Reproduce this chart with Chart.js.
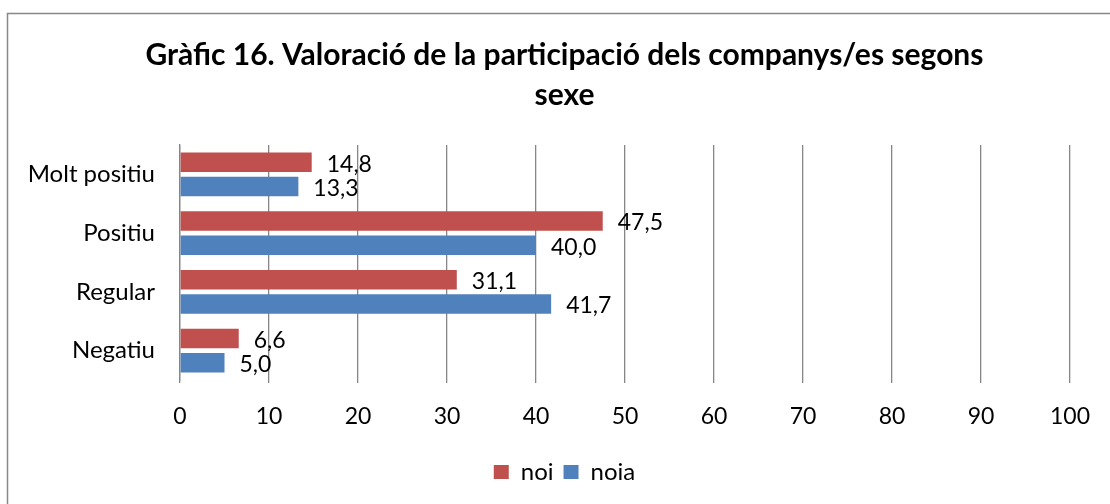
<!DOCTYPE html>
<html>
<head>
<meta charset="utf-8">
<script src="https://cdn.jsdelivr.net/npm/chart.js@4.4.0/dist/chart.umd.min.js"></script>
<style>
  html, body { margin: 0; padding: 0; background: #fff; }
  #wrap { position: relative; width: 1110px; height: 504px; }
</style>
</head>
<body>
<div id="wrap"><canvas id="chart" width="1110" height="504"></canvas></div>
<script>
const categories = ['Molt positiu', 'Positiu', 'Regular', 'Negatiu'];
const noiValues = [14.8, 47.5, 31.1, 6.6];
const noiaValues = [13.3, 40.0, 41.7, 5.0];
const seriesNames = ['noi', 'noia'];
const titleLines = ['Gràfic 16. Valoració de la participació dels companys/es segons', 'sexe'];
const xMin = 0, xMax = 100, xStep = 10;

const FONT = 'Lato, "Open Sans", sans-serif';
Chart.defaults.font.family = FONT;
Chart.defaults.color = '#000';

// frame round the chart (only left and top edges are inside the picture)
const framePlugin = {
    id: 'frame',
    beforeDraw(chart) {
        const ctx = chart.ctx;
        ctx.save();
        ctx.strokeStyle = '#888';
        ctx.lineWidth = 1.5;
        ctx.strokeRect(7.5, 13.5, 1200, 600);
        ctx.restore();
    }
};

// value labels to the right of each bar, with a decimal comma
const valueLabels = {
    id: 'valueLabels',
    afterDatasetsDraw(chart) {
        const ctx = chart.ctx;
        ctx.save();
        ctx.font = '23px ' + FONT;
        ctx.fillStyle = '#000';
        ctx.textAlign = 'left';
        ctx.textBaseline = 'middle';
        chart.data.datasets.forEach((ds, i) => {
            chart.getDatasetMeta(i).data.forEach((bar, j) => {
                ctx.fillText(ds.data[j].toFixed(1).replace('.', ','), bar.x + 15, bar.y + 2);
            });
        });
        ctx.restore();
    }
};

// title and legend sit a bit right of the plot centre in the original
const shiftBlocks = {
    id: 'shiftBlocks',
    afterLayout(chart) {
        chart.titleBlock.left += 29;
        chart.titleBlock.right += 29;
        chart.legend.left += 29;
        chart.legend.right += 29;
    }
};

new Chart(document.getElementById('chart'), {
    type: 'bar',
    data: {
        labels: categories,
        datasets: [
            { label: seriesNames[0], data: noiValues, backgroundColor: '#C0504D' },
            { label: seriesNames[1], data: noiaValues, backgroundColor: '#4F81BD' }
        ]
    },
    options: {
        indexAxis: 'y',
        responsive: false,
        animation: false,
        categoryPercentage: 0.83,
        barPercentage: 0.8,
        layout: { padding: { left: 0, right: 39, top: 0, bottom: 10 } },
        scales: {
            x: {
                min: xMin,
                max: xMax,
                ticks: { stepSize: xStep, padding: 20, font: { size: 23 } },
                grid: { color: '#868686', lineWidth: 1.3, tickLength: 3 },
                border: { display: false },
                afterFit(scale) { scale.height = 70; }
            },
            y: {
                ticks: { padding: 25, font: { size: 24 } },
                grid: { display: false, drawTicks: false },
                border: { display: true, color: '#868686', width: 1.3 },
                afterFit(scale) { scale.width = 180; }
            }
        },
        plugins: {
            title: {
                display: true,
                text: titleLines,
                font: { size: 30, weight: 'bold', lineHeight: 40 / 30 },
                padding: { top: 35, bottom: 30 }
            },
            legend: {
                position: 'bottom',
                labels: { boxWidth: 15, boxHeight: 14, padding: 10, font: { size: 24 } }
            },
            tooltip: { enabled: false }
        }
    },
    plugins: [framePlugin, valueLabels, shiftBlocks]
});
</script>
</body>
</html>
